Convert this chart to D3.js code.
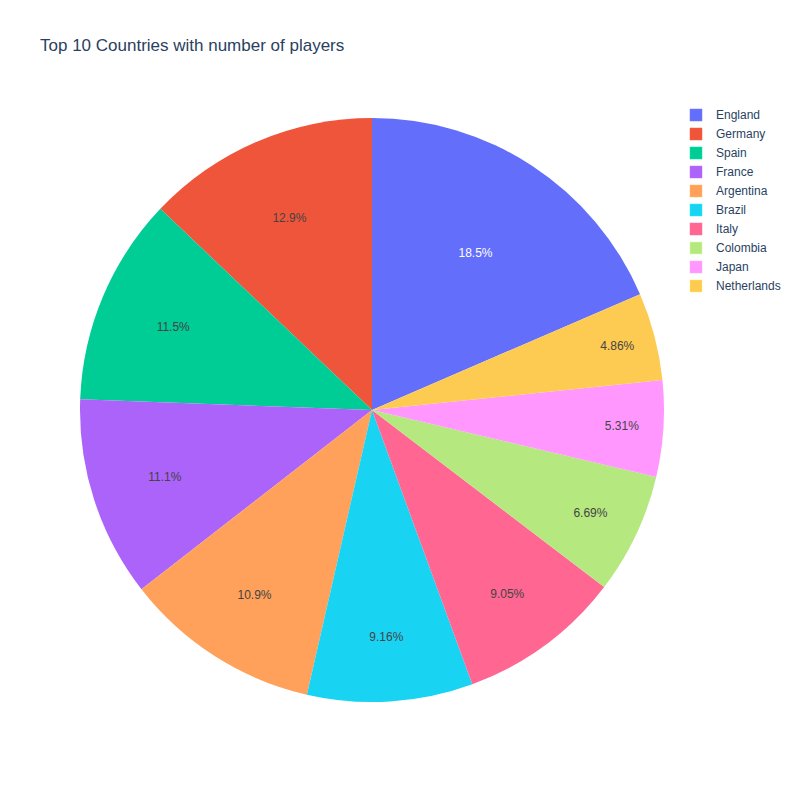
<!DOCTYPE html>
<html>
<head>
<meta charset="utf-8">
<script src="https://cdn.jsdelivr.net/npm/d3@7/dist/d3.min.js"></script>
<style>
  html, body { margin: 0; padding: 0; background: #fff; }
  svg { display: block; font-family: "Liberation Sans", Arial, sans-serif; }
</style>
</head>
<body>
<svg id="chart" width="800" height="800"></svg>
<script>
// Data (player counts, read from percentages)
const countries = ["England", "Germany", "Spain", "France", "Argentina", "Brazil", "Italy", "Colombia", "Japan", "Netherlands"];
const players = [1665, 1161, 1035, 999, 981, 824, 814, 602, 478, 437];
const colors = ["#636efa", "#EF553B", "#00cc96", "#ab63fa", "#FFA15A", "#19d3f3", "#FF6692", "#B6E880", "#FF97FF", "#FECB52"];
const title = "Top 10 Countries with number of players";

const svg = d3.select("#chart");
const cx = 372, cy = 410, R = 292;
const total = d3.sum(players);

const data = countries.map((c, i) => ({ country: c, value: players[i], color: colors[i] }));

// Plotly-like: counterclockwise, first slice ends at 12 o'clock
const firstAngle = players[0] / total * 2 * Math.PI;
const pie = d3.pie().value(d => d.value).sort(null)
  .startAngle(firstAngle).endAngle(firstAngle - 2 * Math.PI);
const arcs = pie(data);
const arc = d3.arc().innerRadius(0).outerRadius(R);

const g = svg.append("g").attr("transform", `translate(${cx},${cy})`);
g.selectAll("path.slice").data(arcs).join("path")
  .attr("class", "slice")
  .attr("d", arc)
  .attr("fill", d => d.data.color);

function isDark(hex) {
  const c = d3.rgb(hex);
  return (c.r * 299 + c.g * 587 + c.b * 114) / 1000 < 128;
}
const fmt = v => d3.format(".3~r")(v) + "%";

g.selectAll("text.lbl").data(arcs).join("text")
  .attr("class", "lbl")
  .each(function(d) {
    const half = Math.abs(d.endAngle - d.startAngle) / 2;
    const mid = (d.startAngle + d.endAngle) / 2;
    const s = Math.sin(Math.min(half, Math.PI / 2));
    const rIns = s / (1 + s);
    const rc = (1 - rIns) * R;
    d3.select(this)
      .attr("x", rc * Math.sin(mid))
      .attr("y", -rc * Math.cos(mid))
      .attr("dy", "0.35em");
  })
  .attr("text-anchor", "middle")
  .attr("font-size", 12)
  .attr("fill", d => isDark(d.data.color) ? "#ffffff" : "#444444")
  .text(d => fmt(d.data.value / total * 100));

// Title
svg.append("text")
  .attr("x", 40).attr("y", 51)
  .attr("font-size", 17)
  .attr("fill", "#2a3f5f")
  .text(title);

// Legend
const legend = svg.append("g").attr("transform", "translate(690,115)");
const items = legend.selectAll("g").data(data).join("g")
  .attr("transform", (d, i) => `translate(0,${i * 19})`);
items.append("rect")
  .attr("x", 0).attr("y", -6).attr("width", 12).attr("height", 12)
  .attr("fill", d => d.color)
  .attr("stroke", d => d3.color(d.color).brighter(0.4))
  .attr("stroke-width", 0.5);
items.append("text")
  .attr("x", 26).attr("y", 0).attr("dy", "0.35em")
  .attr("font-size", 12)
  .attr("fill", "#2a3f5f")
  .text(d => d.country);
</script>
</body>
</html>
